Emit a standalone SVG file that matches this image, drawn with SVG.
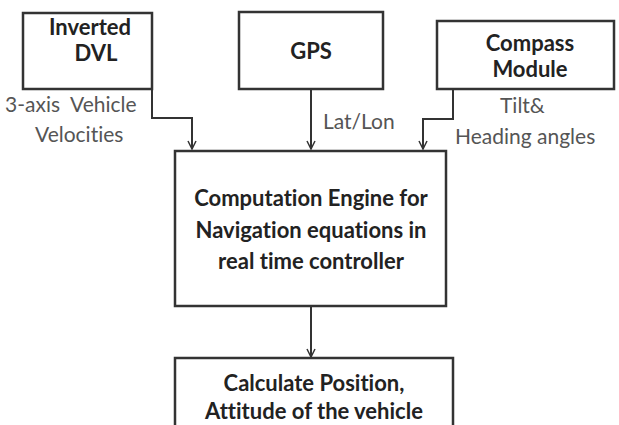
<svg xmlns="http://www.w3.org/2000/svg" width="619" height="425" viewBox="0 0 619 425">
<defs>
<marker id="ah" viewBox="0 0 10 10" refX="9" refY="5" markerWidth="10" markerHeight="10" markerUnits="userSpaceOnUse" orient="auto">
<path d="M1,1 L9,5 L1,9" fill="none" stroke="#333" stroke-width="1.5"/>
</marker>
</defs>
<style>
.box{fill:#fff;stroke:#333;stroke-width:2.5}
text{font-variant-ligatures:none;font-feature-settings:"liga" 0,"dlig" 0}
.t{font-family:"Lato","Liberation Sans",sans-serif;font-weight:bold;font-size:22px;fill:#222;text-anchor:middle}
.l{font-family:"Lato","Liberation Sans",sans-serif;font-size:21px;fill:#555;white-space:pre}
.c{fill:none;stroke:#333;stroke-width:2;marker-end:url(#ah)}
</style>
<rect width="619" height="425" fill="#fff"/>
<g id="connectors">
<path class="c" d="M152,89 V118 H192 V149"/>
<path class="c" d="M311,89 V149"/>
<path class="c" d="M453,89 V119 H423 V149"/>
<path class="c" d="M311,306 V357"/>
</g>
<g id="dvl">
<rect class="box" x="23" y="13" width="129" height="76"/>
<text class="t" x="90" y="35">Inverted</text>
<text class="t" x="96" y="61">DVL</text>
</g>
<g id="gps">
<rect class="box" x="239" y="12" width="144" height="77"/>
<text class="t" x="311" y="59">GPS</text>
</g>
<g id="compass">
<rect class="box" x="437" y="21" width="177" height="68"/>
<text class="t" x="530" y="51">Compass</text>
<text class="t" x="530" y="77">Module</text>
</g>
<g id="labels">
<text class="l" x="5" y="112" xml:space="preserve">3-axis  Vehicle</text>
<text class="l" x="35" y="142">Velocities</text>
<text class="l" x="323" y="129">Lat/Lon</text>
<text class="l" x="500" y="113">Tilt&amp;</text>
<text class="l" x="455" y="144">Heading angles</text>
</g>
<g id="engine">
<rect class="box" x="175" y="151" width="271" height="155"/>
<text class="t" x="311" y="206">Computation Engine for</text>
<text class="t" x="311" y="238">Navigation equations in</text>
<text class="t" x="311" y="269">real time controller</text>
</g>
<g id="calc">
<rect class="box" x="175" y="358" width="278" height="80"/>
<text class="t" x="314" y="391">Calculate Position,</text>
<text class="t" x="314" y="419">Attitude of the vehicle</text>
</g>
</svg>
